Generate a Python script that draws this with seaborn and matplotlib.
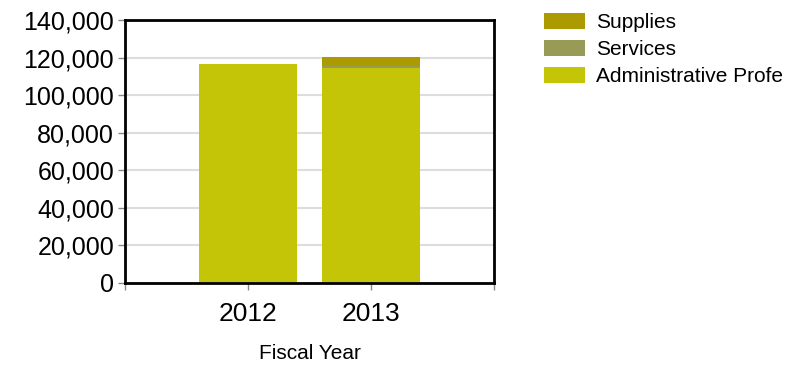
import matplotlib
matplotlib.use("Agg")
import matplotlib.pyplot as plt
import seaborn as sns
import pandas as pd
from matplotlib.patches import Patch
from matplotlib.ticker import FuncFormatter

# %%
years = ["2012", "2013"]
admin = [116400, 114300]
services = [0, 1400]
supplies = [0, 4800]
series_names = ["Supplies", "Services", "Administrative Profe"]
colors = {"Supplies": "#ab9a00", "Services": "#989b55", "Administrative Profe": "#c5c508"}

# %%
df = pd.DataFrame({"year": years, "admin": admin, "services": services, "supplies": supplies})
df["lvl_admin"] = df["admin"]
df["lvl_services"] = df["admin"] + df["services"]
df["lvl_supplies"] = df["lvl_services"] + df["supplies"]

sns.set_style("white")
plt.rcParams["font.family"] = ["Liberation Sans", "DejaVu Sans"]
plt.rcParams["text.color"] = "black"
plt.rcParams["xtick.color"] = "black"
plt.rcParams["ytick.color"] = "black"
plt.rcParams["axes.labelcolor"] = "black"

fig = plt.figure(figsize=(7.92, 3.65), dpi=100)
ax = fig.add_axes([0.158, 0.2247, 0.466, 0.7203])

# draw from the top of the stack down so each layer covers the one above it
for col, name in [("lvl_supplies", "Supplies"), ("lvl_services", "Services"), ("lvl_admin", "Administrative Profe")]:
    sns.barplot(data=df, x="year", y=col, color=colors[name], saturation=1,
                width=0.8, ax=ax, edgecolor="none", linewidth=0)

ax.set_xlim(-1, 2)
ax.set_ylim(0, 140000)
ax.set_yticks(range(0, 140001, 20000))
ax.yaxis.set_major_formatter(FuncFormatter(lambda v, p: f"{int(v):,}"))
ax.set_xticks([-1, 0, 1, 2])
ax.set_xticklabels(["", "2012", "2013", ""])
ax.set_ylabel("")
ax.set_xlabel("Fiscal Year", fontsize=15, labelpad=13)

ax.grid(axis="y", color="#dddddd", linewidth=1.5)
ax.set_axisbelow(True)
for s in ax.spines.values():
    s.set_color("black")
    s.set_linewidth(2)

ax.tick_params(axis="y", which="major", labelsize=18, length=5, width=1, color="#888888", left=True, pad=3)
ax.tick_params(axis="x", which="major", labelsize=19, length=5, width=1, color="#888888", bottom=True, pad=9)

handles = [Patch(facecolor=colors[n], edgecolor="none") for n in series_names]
fig.legend(handles, series_names, loc="upper left", bbox_to_anchor=(0.676, 0.988),
           frameon=False, fontsize=15, handlelength=2.0, handleheight=0.8,
           labelspacing=0.38, handletextpad=0.5, borderaxespad=0)

fig.savefig("out.png", dpi=100)
